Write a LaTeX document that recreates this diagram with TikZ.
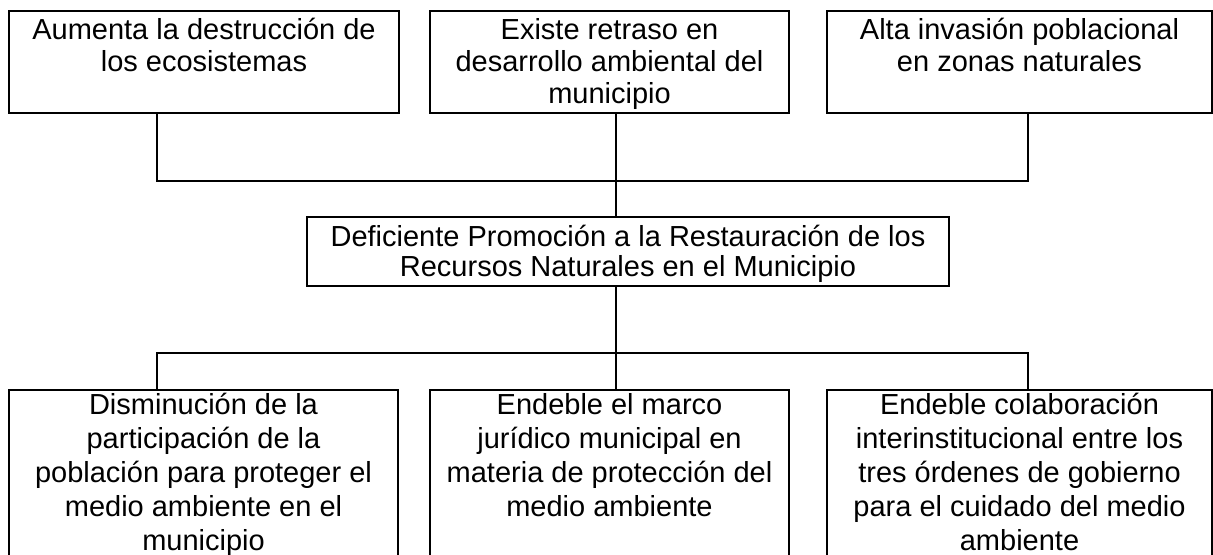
\documentclass[tikz,border=0pt]{standalone}
\usepackage{fontspec}
\setmainfont{Liberation Sans}
\usetikzlibrary{positioning, calc}

\begin{document}
\begin{tikzpicture}[
        x=0.5pt,
        y=-0.5pt,
        cuadro/.style={draw=black, line width=1pt, inner sep=0pt, anchor=north west},
        texto/.style={font=\fontsize{14.5}{16}\selectfont, align=center, inner sep=0pt, anchor=north},
        textocausa/.style={texto, font=\fontsize{14.5}{17}\selectfont},
        enlace/.style={line width=1pt}
    ]
        \useasboundingbox (0,0) rectangle (1213,554);
        \clip (0,0) rectangle (1213,554);

        \node[cuadro, minimum width=195pt, minimum height=50.75pt] (ef1) at (8,10) {};
        \node[cuadro, minimum width=179.5pt, minimum height=50.75pt] (ef2) at (429,10) {};
        \node[cuadro, minimum width=192.5pt, minimum height=50.75pt] (ef3) at (826,10) {};
        \node[texto] (ef1t) at ([yshift=-4pt]ef1.north) {Aumenta la destrucción de\\los ecosistemas};
        \node[texto] (ef2t) at ([yshift=-4pt]ef2.north) {Existe retraso en\\desarrollo ambiental del\\municipio};
        \node[texto] (ef3t) at ([yshift=-4pt]ef3.north) {Alta invasión poblacional\\en zonas naturales};

        \node[cuadro, minimum width=321pt, minimum height=34.5pt] (prob) at (306,216) {};
        \node[texto, font=\fontsize{14.5}{15}\selectfont] (probt) at ([yshift=-4.5pt]prob.north) {Deficiente Promoción a la Restauración de los\\Recursos Naturales en el Municipio};

        \node[cuadro, minimum width=194.5pt, minimum height=100pt] (ca1) at (8,389) {};
        \node[cuadro, minimum width=179.5pt, minimum height=100pt] (ca2) at (429,389) {};
        \node[cuadro, minimum width=192.5pt, minimum height=100pt] (ca3) at (826,389) {};
        \node[textocausa] (ca1t) at ([yshift=-2pt]ca1.north) {Disminución de la\\participación de la\\población para proteger el\\medio ambiente en el\\municipio};
        \node[textocausa] (ca2t) at ([yshift=-2pt]ca2.north) {Endeble el marco\\jurídico municipal en\\materia de protección del\\medio ambiente};
        \node[textocausa] (ca3t) at ([yshift=-2pt]ca3.north) {Endeble colaboración\\interinstitucional entre los\\tres órdenes de gobierno\\para el cuidado del medio\\ambiente};

        \coordinate (busSupIzq) at (157,181);
        \coordinate (busSupCen) at (616,181);
        \coordinate (busSupDer) at (1028,181);
        \coordinate (busInfIzq) at (157,353);
        \coordinate (busInfCen) at (616,353);
        \coordinate (busInfDer) at (1028,353);

        \draw[enlace] (ef1.south -| busSupIzq) -- (busSupIzq) -- (busSupDer) -- (ef3.south -| busSupDer);
        \draw[enlace] (ef2.south -| busSupCen) -- (prob.north -| busSupCen);
        \draw[enlace] (prob.south -| busInfCen) -- (ca2.north -| busInfCen);
        \draw[enlace] (ca1.north -| busInfIzq) -- (busInfIzq) -- (busInfDer) -- (ca3.north -| busInfDer);
    \end{tikzpicture}
\end{document}
